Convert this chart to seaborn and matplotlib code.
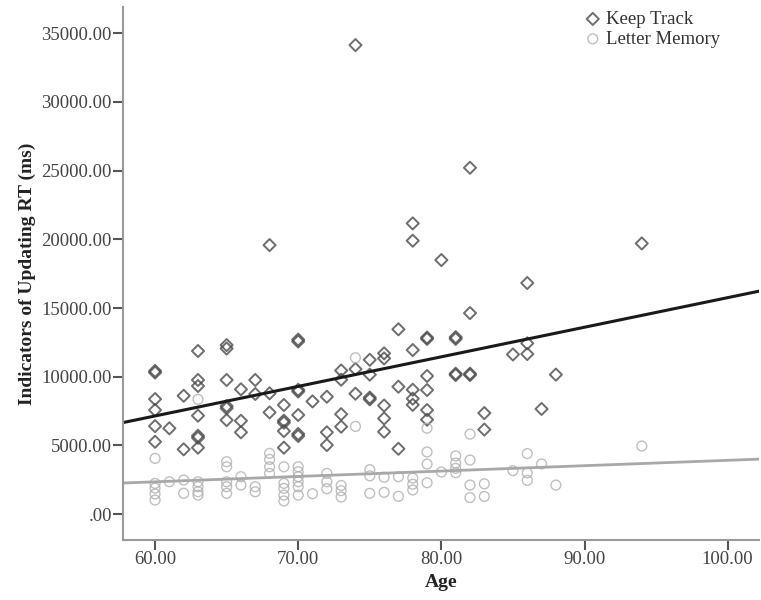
"""Keep Track vs Letter Memory updating RT by age (SPSS-style scatter with fit lines)."""

import matplotlib
matplotlib.use("Agg")
import matplotlib.pyplot as plt
import seaborn as sns
import pandas as pd
from matplotlib.ticker import FixedLocator, FuncFormatter

# Keep Track: one row per age
keep_track_age = (
    [60] * 6 + [61] + [62] * 2 + [63] * 7 + [65] * 6 + [66] * 3 + [67] * 2
    + [68] * 3 + [69] * 5 + [70] * 7 + [71] + [72] * 3 + [73] * 4 + [74] * 3
    + [75] * 4 + [76] * 5 + [77] * 3 + [78] * 6 + [79] * 6 + [80] + [81] * 4
    + [82] * 4 + [83] * 2 + [85] + [86] * 3 + [87] + [88] + [94]
)
keep_track_rt = [
    10300, 10420, 8370, 7570, 6400, 5260,
    6240,
    8610, 4710,
    11870, 9760, 9320, 7160, 5550, 5700, 4830,
    12050, 12300, 9760, 7860, 7700, 6840,
    9080, 6790, 5950,
    9760, 8740,
    19580, 8790, 7400,
    7940, 6650, 6800, 6040, 4830,
    12560, 12700, 8920, 9050, 7210, 5680, 5830,
    8200,
    8540, 5950, 5020,
    10450, 9780, 7270, 6360,
    34140, 10550, 8760,
    11230, 10150, 8350, 8480,
    11700, 11330, 7900, 6960, 5990,
    13450, 9270, 4750,
    21160, 19900, 11940, 9050, 8400, 7950,
    12750, 12850, 10050, 9030, 7570, 6870,
    18490,
    12750, 12880, 10120, 10220,
    25210, 14630, 10120, 10220,
    7350, 6150,
    11620,
    16820, 12430, 11650,
    7650,
    10150,
    19700,
]

# Letter Memory
letter_memory_age = (
    [60] * 5 + [61] + [62] * 2 + [63] * 5 + [65] * 5 + [66] * 2 + [67] * 2
    + [68] * 4 + [69] * 5 + [70] * 6 + [71] + [72] * 3 + [73] * 3 + [74] * 2
    + [75] * 3 + [76] * 2 + [77] * 2 + [78] * 3 + [79] * 4 + [80] + [81] * 4
    + [82] * 4 + [83] * 2 + [85] + [86] * 3 + [87] + [88] + [94]
)
letter_memory_rt = [
    4050, 2230, 1890, 1460, 1020,
    2350,
    2480, 1510,
    8350, 2350, 1990, 1620, 1380,
    3810, 3440, 2350, 1990, 1510,
    2720, 2110,
    1990, 1620,
    4420, 3980, 3440, 2960,
    3440, 2230, 1870, 1380, 950,
    3440, 3080, 2720, 2350, 1990, 1380,
    1480,
    2960, 2350, 1840,
    2080, 1700, 1240,
    11380, 6380,
    3230, 2780, 1510,
    2680, 1580,
    2720, 1290,
    2620, 2170, 1750,
    6250, 4520, 3640, 2280,
    3060,
    4230, 3710, 3330, 3010,
    5820, 3930, 2110, 1200,
    2200, 1280,
    3160,
    4400, 3000, 2450,
    3650,
    2110,
    4950,
]

x_ticks = [60, 70, 80, 90, 100]
y_ticks = [0, 5000, 10000, 15000, 20000, 25000, 30000, 35000]

sns.set_theme(style="ticks")
plt.rcParams["font.family"] = ["Liberation Serif", "DejaVu Serif"]

keep_df = pd.DataFrame({"age": keep_track_age, "rt": keep_track_rt})
letter_df = pd.DataFrame({"age": letter_memory_age, "rt": letter_memory_rt})

fig = plt.figure(figsize=(7.61, 6.0), dpi=100)
ax = fig.add_axes([0.1616, 0.10, 0.836, 0.888])
ax.set_xlim(57.76, 102.2)
ax.set_ylim(-1890, 36900)

sns.regplot(
    data=keep_df, x="age", y="rt", ax=ax, ci=None, truncate=False,
    marker="D", label="Keep Track",
    scatter_kws={"s": 38, "facecolors": "none", "edgecolors": "#4a4a4a", "linewidths": 1.4},
    line_kws={"color": "#1a1a1a", "linewidth": 2.2},
)
sns.regplot(
    data=letter_df, x="age", y="rt", ax=ax, ci=None, truncate=False,
    marker="o", label="Letter Memory",
    scatter_kws={"s": 50, "facecolors": "none", "edgecolors": "#b0b0b0", "linewidths": 1.0},
    line_kws={"color": "#a8a8a8", "linewidth": 2.0},
)

ax.xaxis.set_major_locator(FixedLocator(x_ticks))
ax.yaxis.set_major_locator(FixedLocator(y_ticks))
ax.xaxis.set_major_formatter(FuncFormatter(lambda v, _: f"{v:.2f}"))
ax.yaxis.set_major_formatter(
    FuncFormatter(lambda v, _: ".00" if v == 0 else f"{v:.2f}")
)
ax.tick_params(axis="both", direction="out", length=7, width=1.5,
               color="#555555", labelcolor="#444444", labelsize=13.5, pad=1)

for side in ["top", "right"]:
    ax.spines[side].set_visible(False)
for side in ["left", "bottom"]:
    ax.spines[side].set_color("#9a9a9a")
    ax.spines[side].set_linewidth(1.5)

ax.set_xlabel("Age", fontsize=14, fontweight="bold", color="#222222", labelpad=4)
ax.set_ylabel("Indicators of Updating RT (ms)", fontsize=14, fontweight="bold",
              color="#222222", labelpad=4)

ax.legend(loc="upper left", bbox_to_anchor=(0.706, 1.018), frameon=False,
          fontsize=13.5, handlelength=0.8, handletextpad=0.3,
          labelspacing=0.15, borderpad=0.2, labelcolor="#333333")

fig.savefig("out.png", dpi=100)
plt.close(fig)
